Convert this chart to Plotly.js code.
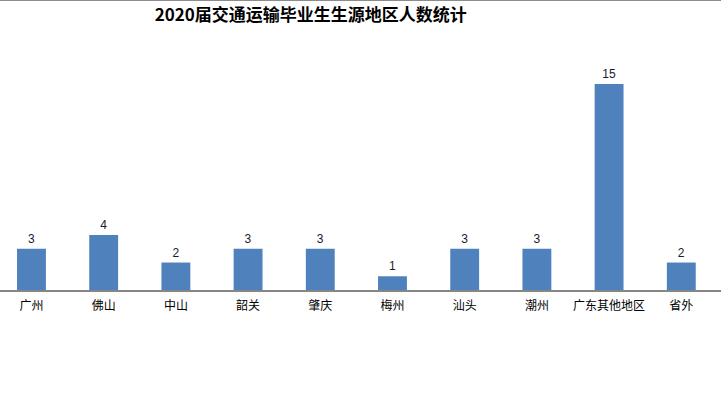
<!DOCTYPE html>
<html>
<head>
<meta charset="utf-8">
<script src="https://cdn.plot.ly/plotly-3.0.1.min.js"></script>
<style>
html,body{margin:0;padding:0;background:#fff;}
#chart{width:721px;height:396px;border-top:1px solid #8c8c8c;}
</style>
</head>
<body>
<div id="chart"></div>
<script>
const categories = ["广州","佛山","中山","韶关","肇庆","梅州","汕头","潮州","广东其他地区","省外"];
const counts = [3,4,2,3,3,1,3,3,15,2];
const chartTitle = "2020届交通运输毕业生生源地区人数统计";

const font = "'Noto Sans CJK SC', 'Noto Sans', sans-serif";

const trace = {
  type: 'bar',
  x: categories,
  y: counts,
  width: 0.40,
  marker: {color: '#4F81BD'},
  text: counts.map(String),
  textposition: 'outside',
  cliponaxis: false,
  textfont: {family: "'Liberation Sans', Arial, sans-serif", size: 12, color: '#1a1a2e'},
  hoverinfo: 'none'
};

const layout = {
  width: 721,
  height: 396,
  margin: {l: 0, r: 0, t: 39, b: 107, pad: 0},
  paper_bgcolor: '#ffffff',
  plot_bgcolor: '#ffffff',
  showlegend: false,
  title: {
    text: '<b>' + chartTitle + '</b>',
    font: {family: font, size: 17, color: '#000000'},
    x: 0.431, xanchor: 'center', xref: 'paper',
    y: 1 - 14/396, yanchor: 'middle', yref: 'container'
  },
  xaxis: {
    type: 'category',
    range: [-0.436, 9.55],
    showline: true,
    linecolor: '#868686',
    linewidth: 1.5,
    showgrid: false,
    zeroline: false,
    ticks: '',
    tickfont: {family: font, size: 12, color: '#000000'},
    ticklabelstandoff: 4
  },
  yaxis: {
    range: [0, 18.2],
    visible: false,
    showgrid: false,
    zeroline: false
  },
  bargap: 0.6
};

Plotly.newPlot('chart', [trace], layout, {displayModeBar: false, staticPlot: true});
</script>
</body>
</html>
